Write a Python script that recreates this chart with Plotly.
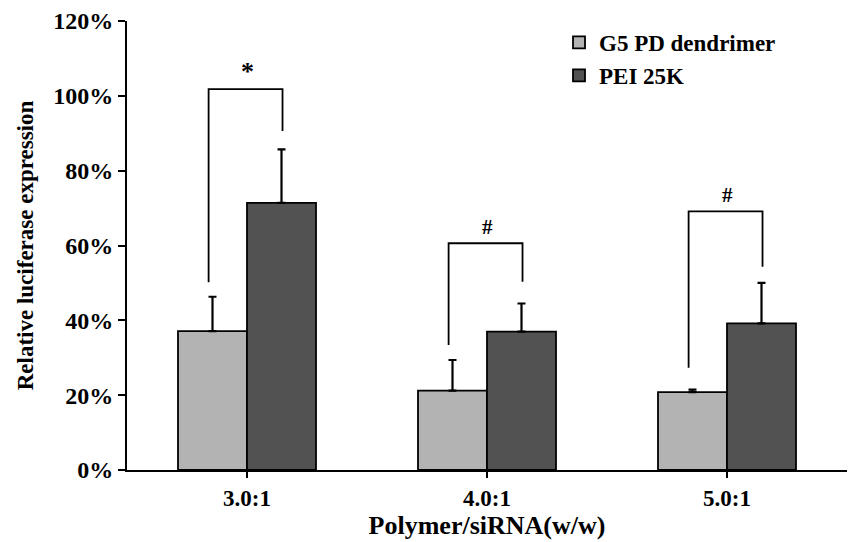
import plotly.graph_objects as go

categories = ["3.0:1", "4.0:1", "5.0:1"]
g5_values = [0.371, 0.212, 0.208]
g5_errors = [0.092, 0.082, 0.007]
pei_values = [0.714, 0.370, 0.392]
pei_errors = [0.143, 0.075, 0.108]

# significance brackets: top level, left leg bottom, right leg bottom, symbol
bracket_top = [1.018, 0.606, 0.691]
bracket_left_bottom = [0.502, 0.334, 0.273]
bracket_right_bottom = [0.906, 0.503, 0.543]
bracket_symbols = ["*", "#", "#"]
y_ticks = [0, 0.2, 0.4, 0.6, 0.8, 1.0, 1.2]

FONT = "Liberation Serif"


def bold(size):
    return dict(family=FONT, size=size, color="black", weight="bold")


fig = go.Figure()
fig.add_trace(go.Bar(
    x=categories, y=g5_values, name="G5 PD dendrimer",
    marker=dict(color="#b3b3b3", line=dict(color="black", width=1.8)),
    error_y=dict(type="data", array=g5_errors, arrayminus=[0]*3, symmetric=False,
                 color="black", thickness=2.2, width=4),
))
fig.add_trace(go.Bar(
    x=categories, y=pei_values, name="PEI 25K",
    marker=dict(color="#525252", line=dict(color="black", width=1.8)),
    error_y=dict(type="data", array=pei_errors, arrayminus=[0]*3, symmetric=False,
                 color="black", thickness=2.2, width=4),
))

left_off = -0.16
right_off = 0.148
for i in range(len(categories)):
    xl = i + left_off
    xr = i + right_off
    fig.add_shape(type="path",
                  path=f"M {xl} {bracket_left_bottom[i]} L {xl} {bracket_top[i]} L {xr} {bracket_top[i]} L {xr} {bracket_right_bottom[i]}",
                  xref="x", yref="y", line=dict(color="black", width=1.8))
    fig.add_annotation(x=i, y=bracket_top[i], text=bracket_symbols[i],
                       xref="x", yref="y", showarrow=False, yanchor="bottom",
                       yshift=1 if bracket_symbols[i] == "*" else 2,
                       font=bold(26 if bracket_symbols[i] == "*" else 21))

fig.update_layout(
    width=851, height=542,
    margin=dict(l=127, r=4, t=21, b=72),
    paper_bgcolor="white", plot_bgcolor="white",
    barmode="group", bargap=0.425, bargroupgap=0,
    font=dict(family=FONT, color="black"),
    showlegend=True,
    legend=dict(x=0.60, y=1.0, xanchor="left", yanchor="top",
                font=bold(23),
                bgcolor="rgba(0,0,0,0)", itemwidth=30, tracegroupgap=0),
    xaxis=dict(
        type="category", range=[-0.5, 2.5],
        showline=True, linecolor="black", linewidth=2,
        ticks="outside", ticklen=6, tickwidth=2, tickcolor="black",
        tickfont=bold(23),
        title=dict(text="Polymer/siRNA(w/w)", font=bold(26), standoff=3),
        showgrid=False, zeroline=False,
    ),
    yaxis=dict(
        range=[0, 1.2], tickvals=y_ticks, tickformat=".0%",
        showline=True, linecolor="black", linewidth=2,
        ticks="outside", ticklen=7, tickwidth=2, tickcolor="black",
        tickfont=bold(24),
        title=dict(text="Relative luciferase expression", font=bold(23), standoff=13),
        showgrid=False, zeroline=False,
    ),
)

fig.write_html("out.html")
